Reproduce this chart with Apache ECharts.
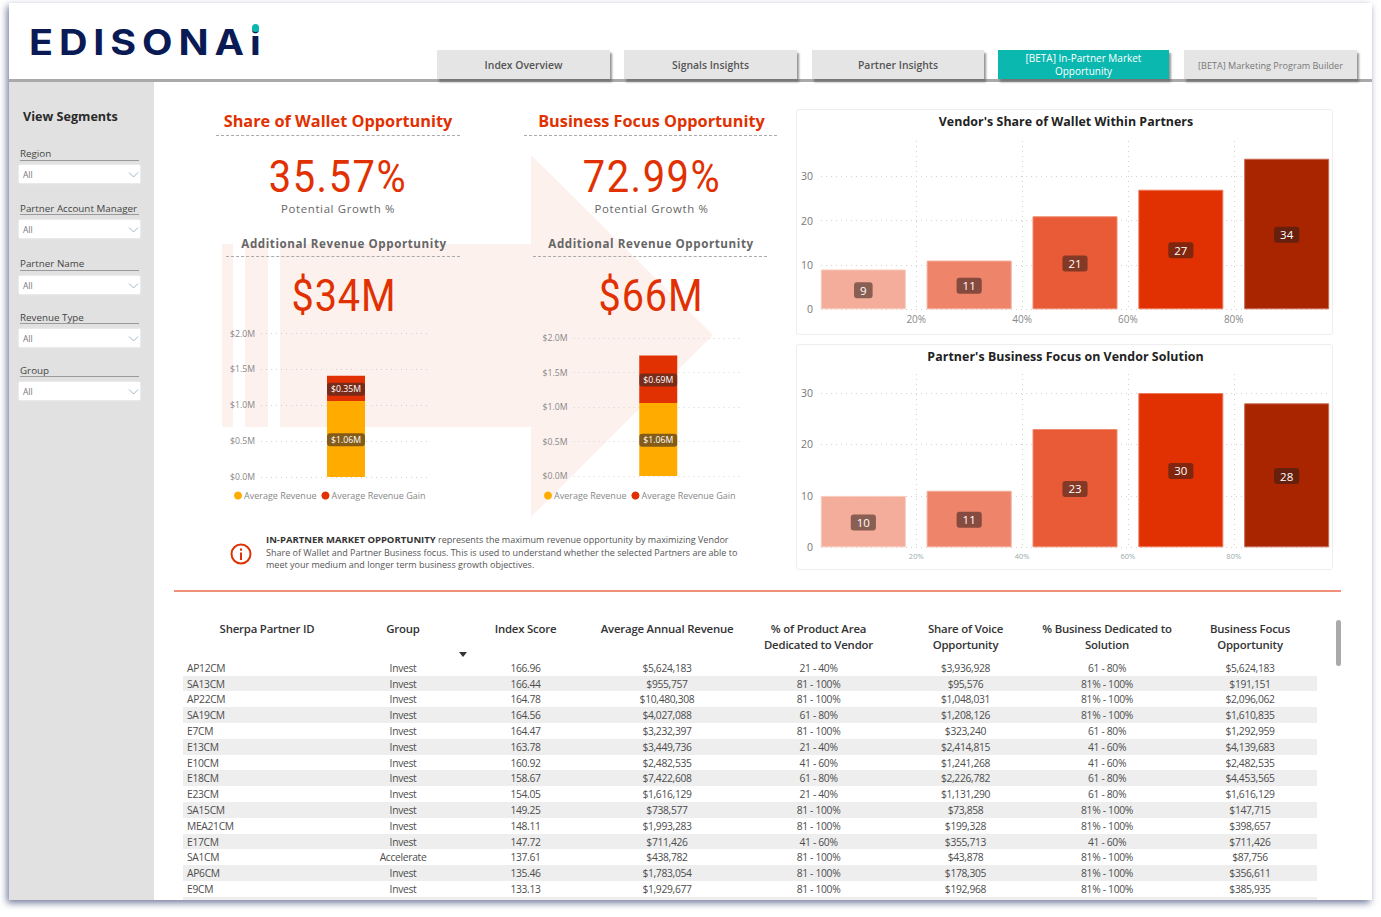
<!DOCTYPE html>
<html><head><meta charset="utf-8">
<script src="https://cdn.jsdelivr.net/npm/echarts@6/dist/echarts.min.js"></script>
<style>
*{box-sizing:border-box}
html,body{margin:0;padding:0;background:#fff;width:1381px;height:917px;overflow:hidden;font-family:"Open Sans",sans-serif}
#panel{position:absolute;left:9px;top:3px;width:1363px;height:897px;background:#fff;box-shadow:-2px 3px 7px rgba(70,80,125,.75)}
.abs{position:absolute;white-space:nowrap}
.c{transform:translate(-50%,-50%)}
.m{transform:translateY(-50%)}
#side{position:absolute;left:9px;top:82px;width:145px;height:818px;background:#e1e1e1}
#hline{position:absolute;left:9px;top:79px;width:1363px;height:3px;background:#a9a9a9}
.tab{position:absolute;top:50px;height:29px;padding-top:1px;background:#e5e5e5;box-shadow:2px 3px 2px rgba(90,90,90,.65);display:flex;align-items:center;justify-content:center;text-align:center;font-size:10.4px;font-weight:600;color:#555;line-height:13px}
.lab{position:absolute;font-size:9.8px;color:#444;left:20px;white-space:nowrap}
.ul{position:absolute;left:20px;width:119px;height:1px;background:#9a9a9a}
.box{position:absolute;left:19px;width:121px;height:18px;background:#fff;box-shadow:0 0 2px #fff;font-size:8.5px;color:#777;padding:4px 0 0 4px}
.dot{position:absolute;border-top:1px dashed #aaa;height:1px}
.card{position:absolute;border:1px solid #eee;border-radius:3px;left:796px;width:537px;background:#fff}
#chart{position:absolute;left:0;top:0;width:1381px;height:917px}
.hd{position:absolute;font-size:11.4px;font-weight:600;color:#333;text-align:center;line-height:16px;transform:translateX(-50%);white-space:nowrap;letter-spacing:-.2px}
.cell{position:absolute;font-size:10.3px;color:#4d4d4d;white-space:nowrap;letter-spacing:-.32px}
.stripe{position:absolute;left:183px;width:1134px;height:15.8px;background:#eeeeee}
</style></head><body>
<div id="panel"></div>
<div id="hline"></div>
<div id="side"></div>
<svg class="abs" style="left:0;top:0" width="1381" height="917">
<g fill="#fdf1ee"><rect x="222" y="244" width="11" height="183"/><rect x="245" y="244" width="23" height="183"/><rect x="280" y="244" width="251" height="183"/><polygon points="531,155 713,335 531,517"/></g>
</svg>
<div class="card" style="top:109px;height:226px"></div>
<div class="card" style="top:344px;height:226px"></div>
<div id="chart"></div>
<div id="ui"></div>
<script>
const regionSlicers = ['Region','Partner Account Manager','Partner Name','Revenue Type','Group'];
const tabNames = ['Index Overview','Signals Insights','Partner Insights','[BETA] In-Partner Market Opportunity','[BETA] Marketing Program Builder'];
const legendNames = ['Average Revenue','Average Revenue Gain'];
const revenueTicks = [0,0.5,1,1.5,2];
const walletRevenue = [1.06]; const walletGain = [0.35];
const focusRevenue = [1.06]; const focusGain = [0.69];
const bandCenters = [10,30,50,70,90];
const bandTicks = [20,40,60,80];
const countTicks = [0,10,20,30];
const walletCounts = [9,11,21,27,34];
const focusCounts = [10,11,23,30,28];
const bandColors = ['#F4AD9A','#EE846A','#E95B36','#E13102','#A82500'];
const bandBorders = ['#F9CBBE','#F4AB99','#EF8A6E','#EC7A5A','#C86B52'];
const headers = ['Sherpa Partner ID','Group','Index Score','Average Annual Revenue','% of Product Area<br>Dedicated to Vendor','Share of Voice<br>Opportunity','% Business Dedicated to<br>Solution','Business Focus<br>Opportunity'];
const partnerIds = ['AP12CM','SA13CM','AP22CM','SA19CM','E7CM','E13CM','E10CM','E18CM','E23CM','SA15CM','MEA21CM','E17CM','SA1CM','AP6CM','E9CM'];
const groups = ['Invest','Invest','Invest','Invest','Invest','Invest','Invest','Invest','Invest','Invest','Invest','Invest','Accelerate','Invest','Invest'];
const indexScores = ['166.96','166.44','164.78','164.56','164.47','163.78','160.92','158.67','154.05','149.25','148.11','147.72','137.61','135.46','133.13'];
const avgRevenue = ['$5,624,183','$955,757','$10,480,308','$4,027,088','$3,232,397','$3,449,736','$2,482,535','$7,422,608','$1,616,129','$738,577','$1,993,283','$711,426','$438,782','$1,783,054','$1,929,677'];
const productArea = ['21 - 40%','81 - 100%','81 - 100%','61 - 80%','81 - 100%','21 - 40%','41 - 60%','61 - 80%','21 - 40%','81 - 100%','81 - 100%','41 - 60%','81 - 100%','81 - 100%','81 - 100%'];
const shareOfVoice = ['$3,936,928','$95,576','$1,048,031','$1,208,126','$323,240','$2,414,815','$1,241,268','$2,226,782','$1,131,290','$73,858','$199,328','$355,713','$43,878','$178,305','$192,968'];
const businessDedicated = ['61 - 80%','81% - 100%','81% - 100%','81% - 100%','61 - 80%','41 - 60%','41 - 60%','61 - 80%','61 - 80%','81% - 100%','81% - 100%','41 - 60%','81% - 100%','81% - 100%','81% - 100%'];
const businessFocus = ['$5,624,183','$191,151','$2,096,062','$1,610,835','$1,292,959','$4,139,683','$2,482,535','$4,453,565','$1,616,129','$147,715','$398,657','$711,426','$87,756','$356,611','$385,935'];

const RED='#E13102', FONT='"Open Sans",sans-serif';
const ui=document.getElementById('ui');
function el(cls,style,html){const d=document.createElement('div');d.className=cls;d.style.cssText=style;d.innerHTML=html||'';ui.appendChild(d);return d;}
function text(x,y,t,st){return el('abs c',`left:${x}px;top:${y}px;${st}`,t);}

/* header */
el('abs',`left:29px;top:20.5px;font-family:Inter,sans-serif;font-weight:700;font-size:35px;line-height:42px;letter-spacing:5.2px;color:#0a1a55;transform-origin:0 50%;transform:scaleX(1.13)`,'EDISONAi');
el('abs',`left:251.8px;top:24.2px;width:7.6px;height:7.6px;border-radius:50%;background:#0ab8b0`);
const tabX=[[437,173],[624,173],[812,172],[998,171],[1184,173]];
tabNames.forEach((n,i)=>{const active=i===3,last=i===4;
 el('tab',`left:${tabX[i][0]}px;width:${tabX[i][1]}px;`+(active?'background:#0ab8b0;color:#fff;font-weight:400;font-size:10px;padding:1px 20px 0;':'')+(last?'font-weight:400;font-size:9.1px;color:#777;':''),n);});

/* sidebar */
el('abs',`left:23px;top:108px;font-size:12.6px;font-weight:700;color:#2a2a2a`,'View Segments');
const slY=[[154,159.5,165],[209,214,220],[264,270,276],[318,323,329],[371,376,382]];
regionSlicers.forEach((n,i)=>{
 el('lab',`top:${slY[i][0]-7}px`,n);
 el('ul',`top:${slY[i][1]}px`);
 el('box',`top:${slY[i][2]}px`,'All');
 el('abs',`left:128px;top:${slY[i][2]+7}px;width:0;height:0`,`<svg width="11" height="6" style="display:block"><path d="M1 0.5 L5.5 5 L10 0.5" fill="none" stroke="#a0b4c4"/></svg>`);
});

/* KPI blocks */
function kpi(cx,cx2,title,dl,dr,pct,add,dl2,dr2){
 text(cx,120.7,title,`font-size:16.3px;font-weight:700;color:${RED}`);
 el('dot',`left:${dl}px;top:135px;width:${dr-dl}px`);
 text(cx,177,pct,`font-family:Roboto,sans-serif;font-size:44px;color:${RED};letter-spacing:1.7px;transform:translate(-50%,-50%) scaleX(.905)`);
 text(cx,208,'Potential Growth %','font-size:11.4px;color:#666;letter-spacing:.65px');
 text(cx2,243,'Additional Revenue Opportunity','font-size:11.6px;font-weight:700;color:#666;letter-spacing:.58px');
 el('dot',`left:${dl2}px;top:256px;width:${dr2-dl2}px`);
 text(cx2,295,add,`font-family:Roboto,sans-serif;font-size:45px;color:${RED};letter-spacing:1px;transform:translate(-50%,-50%) scaleX(.88)`);
}
kpi(338,344,'Share of Wallet Opportunity',216,460,'35.57%','$34M',226,460);
kpi(651.5,651,'Business Focus Opportunity',524,777,'72.99%','$66M',533,767);

/* info note */
el('abs',`left:230px;top:543px`,`<svg width="22" height="22" style="display:block"><circle cx="11" cy="11" r="9.5" fill="none" stroke="${RED}" stroke-width="2"/><rect x="10" y="9.5" width="2" height="7.5" fill="${RED}"/><rect x="10" y="5.5" width="2" height="2.2" fill="${RED}"/></svg>`);
const noteSt='font-size:9px;color:#555;left:266px;';
el('abs m',noteSt+'top:538.5px','<b style="color:#333;font-weight:700;font-size:9.5px">IN-PARTNER MARKET OPPORTUNITY</b> represents the maximum revenue opportunity by maximizing Vendor');
el('abs m',noteSt+'top:551.5px','Share of Wallet and Partner Business focus. This is used to understand whether the selected Partners are able to');
el('abs m',noteSt+'top:564px','meet your medium and longer term business growth objectives.');
el('abs','left:174px;top:590px;width:1167px;height:2px;background:#F0907A');

text(1066,120.7,"Vendor's Share of Wallet Within Partners",'font-size:12.4px;font-weight:700;color:#222;letter-spacing:.05px');
text(1065.5,355.7,"Partner's Business Focus on Vendor Solution",'font-size:12.4px;font-weight:700;color:#222;letter-spacing:.05px');

/* table */
const colX=[267,403,525.5,667,818.5,965.5,1107,1250];
headers.forEach((h,i)=>el('hd',`left:${colX[i]}px;top:621px`,h));
el('abs',`left:459px;top:652px;width:0;height:0;border-left:4px solid transparent;border-right:4px solid transparent;border-top:5px solid #333`);
const rowY=i=>667.7+i*15.8;
partnerIds.forEach((p,i)=>{ if(i%2) el('stripe',`top:${rowY(i)-7.9}px`); });
el('stripe',`top:${rowY(15)-7.9}px;height:3px`);
const cols=[partnerIds,groups,indexScores,avgRevenue,productArea,shareOfVoice,businessDedicated,businessFocus];
cols.forEach((col,c)=>col.forEach((v,i)=>{
 if(c===0) el('cell m',`left:187px;top:${rowY(i)}px`,v);
 else el('cell c',`left:${colX[c]}px;top:${rowY(i)}px`,v);
}));
el('abs','left:1336px;top:620px;width:5px;height:46px;border-radius:3px;background:#aaa');

/* charts */
const dotted={lineStyle:{type:[1,4],color:'#d2d2d2',width:1}};
const pill={show:true,color:'#fff',fontFamily:FONT,borderRadius:3};
function stackedAxes(idx){return {
 x:{gridIndex:idx,type:'category',data:['Total'],axisLine:{show:false},axisTick:{show:false},axisLabel:{show:false}},
 y:{gridIndex:idx,type:'value',min:revenueTicks[0],max:revenueTicks[4],interval:0.5,axisLine:{show:false},axisTick:{show:false},
  axisLabel:{color:'#888',fontSize:8.7,margin:6,padding:[2,0,0,0],fontFamily:FONT,formatter:v=>'$'+v.toFixed(1)+'M'},splitLine:{show:true,...dotted}}};}
function stackSeries(name,idx,data,color,stack){return {name,type:'bar',xAxisIndex:idx,yAxisIndex:idx,stack,data,barWidth:38,
 itemStyle:{color},label:{...pill,position:'inside',offset:[0,0.8],fontSize:8.7,padding:[2,4],backgroundColor:'rgba(50,40,40,.6)',formatter:p=>'$'+p.value.toFixed(2)+'M'}};}
function bandAxes(idx,labelSize,labelColor,labelMargin){return {
 x:{gridIndex:idx,type:'value',min:2,max:98,axisLine:{show:false},
  axisTick:{show:false,customValues:bandTicks},
  axisLabel:{customValues:bandTicks,formatter:'{value}%',color:labelColor,fontSize:labelSize,margin:labelMargin,fontFamily:FONT},
  splitLine:{show:true,...dotted}},
 y:{gridIndex:idx,type:'value',min:0,max:idx===2?38:33.7,axisLine:{show:false},axisTick:{show:false,customValues:countTicks},
  axisLabel:{customValues:countTicks,color:'#777',fontSize:10.5,margin:8,fontFamily:FONT},splitLine:{show:true,...dotted}}};}
function bandSeries(name,idx,values){return {name,type:'bar',xAxisIndex:idx,yAxisIndex:idx,barWidth:85,
 data:values.map((v,i)=>({value:[bandCenters[i],v],itemStyle:{color:bandColors[i],borderColor:bandBorders[i],borderWidth:1}})),
 label:{...pill,position:'inside',offset:[0,0.8],fontSize:11.5,padding:[2,6],backgroundColor:'rgba(50,30,25,.55)',formatter:p=>String(p.value[1])}};}
const a0=stackedAxes(0),a1=stackedAxes(1),a2=bandAxes(2,10,'#888',5),a3=bandAxes(3,7.5,'#9aa',5);
const chart=echarts.init(document.getElementById('chart'),null,{renderer:'svg'});
chart.setOption({
 animation:false,
 color:['#FFAB00',RED],
 textStyle:{fontFamily:FONT},
 grid:[{left:261,width:170,top:333.5,height:143.5},{left:573.5,width:169.5,top:338.3,height:137.7},
       {left:821,width:508,top:141,height:168.3},{left:821,width:508,top:374,height:173.3}],
 xAxis:[a0.x,a1.x,a2.x,a3.x], yAxis:[a0.y,a1.y,a2.y,a3.y],
 legend:[{left:234,top:491,icon:'circle',itemWidth:8,itemHeight:8,itemGap:5,selectedMode:false,data:legendNames,padding:0,textStyle:{color:'#888',fontSize:9,padding:[0,0,0,-3],fontFamily:FONT}},
         {left:544,top:491,icon:'circle',itemWidth:8,itemHeight:8,itemGap:5,selectedMode:false,data:legendNames,padding:0,textStyle:{color:'#888',fontSize:9,padding:[0,0,0,-3],fontFamily:FONT}}],
 series:[
  stackSeries(legendNames[0],0,walletRevenue,'#FFAB00','a'),stackSeries(legendNames[1],0,walletGain,RED,'a'),
  stackSeries(legendNames[0],1,focusRevenue,'#FFAB00','b'),stackSeries(legendNames[1],1,focusGain,RED,'b'),
  bandSeries('Wallet share',2,walletCounts),bandSeries('Business focus',3,focusCounts)
 ]
});
</script>
</body></html>
